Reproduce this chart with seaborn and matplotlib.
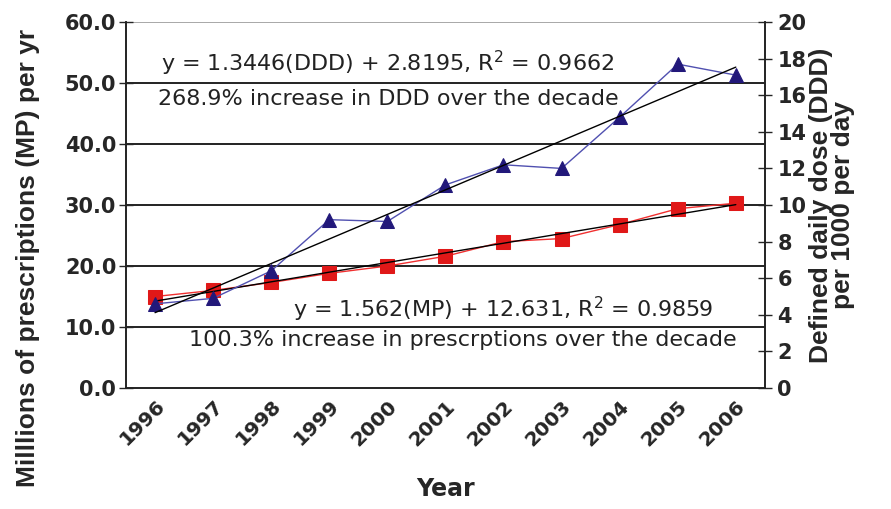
import numpy as np
import pandas as pd
import matplotlib
matplotlib.use("Agg")
import matplotlib.pyplot as plt
import seaborn as sns

# data
years = ["1996", "1997", "1998", "1999", "2000", "2001", "2002", "2003", "2004", "2005", "2006"]
mp = [15.0, 16.0, 17.3, 18.8, 20.0, 21.6, 24.0, 24.5, 26.8, 29.4, 30.3]
ddd = [4.6, 4.9, 6.4, 9.2, 9.1, 11.1, 12.2, 12.0, 14.8, 17.7, 17.1]

df = pd.DataFrame({"pos": np.arange(len(years)), "Year": years, "MP": mp, "DDD": ddd})

sns.set_style("white")
plt.rcParams["font.family"] = ["DejaVu Sans"]

fig = plt.figure(figsize=(8.91, 5.09), dpi=100)
ax = fig.add_axes([0.1414, 0.2377, 0.717, 0.719])
ax2 = ax.twinx()

# grid lines on left scale
for v in [10, 20, 30, 40, 50]:
    ax.axhline(v, color="#222222", lw=1.4, zorder=0)
ax.axhline(60, color="#999999", lw=1.2, zorder=0)

# MP series (left axis)
sns.lineplot(data=df, x="pos", y="MP", ax=ax, color="#f03030", lw=1.0,
             marker="s", markersize=10, markeredgecolor="#e01818",
             markerfacecolor="#e01818", zorder=3)
sns.regplot(data=df, x="pos", y="MP", ax=ax, scatter=False, ci=None,
            truncate=True, line_kws={"color": "black", "lw": 1.0, "zorder": 4})

# DDD series (right axis)
sns.lineplot(data=df, x="pos", y="DDD", ax=ax2, color="#5050b0", lw=1.0,
             marker="^", markersize=10, markeredgecolor="#22187a",
             markerfacecolor="#22187a", zorder=3)
sns.regplot(data=df, x="pos", y="DDD", ax=ax2, scatter=False, ci=None,
            truncate=True, line_kws={"color": "black", "lw": 1.0, "zorder": 4})

ax.set_xlim(-0.5, len(years) - 0.5)
ax.set_ylim(0, 60)
ax2.set_ylim(0, 20)

ax.set_yticks(np.arange(0, 61, 10))
ax.set_yticklabels([f"{v:.1f}" for v in np.arange(0, 61, 10)],
                   fontsize=15, fontweight="bold")
ax2.set_yticks(np.arange(0, 21, 2))
ax2.set_yticklabels([str(v) for v in range(0, 21, 2)],
                    fontsize=15, fontweight="bold")

ax.set_xticks(np.arange(len(years)))
ax.set_xticklabels(years, rotation=45, ha="right", rotation_mode="anchor",
                   fontsize=14.5, fontweight="bold")
ax.set_xticks(np.arange(-0.5, len(years)), minor=True)
ax.tick_params(axis="x", which="major", length=0, pad=6)
ax.tick_params(axis="x", which="minor", length=9, direction="inout", width=1)
ax.tick_params(axis="y", length=10, direction="inout", width=1, pad=2)
ax2.tick_params(axis="y", length=10, direction="inout", width=1, pad=4)

for a in (ax, ax2):
    a.spines["top"].set_visible(False)
    for s in ["left", "right", "bottom"]:
        a.spines[s].set_color("#222222")
        a.spines[s].set_linewidth(1.2)

ax.set_xlabel("Year", fontsize=17, fontweight="bold", labelpad=20)
ax.set_ylabel("Milllions of prescriptions (MP) per yr", fontsize=19,
              fontweight="bold", family="Liberation Sans")
ax.yaxis.set_label_coords(-0.135, 0.355)
ax2.set_ylabel("Defined daily dose (DDD)\nper 1000 per day", fontsize=19,
               fontweight="bold", labelpad=2, linespacing=0.9,
               family="Liberation Sans")

ax.text(0.41, 0.886, "y = 1.3446(DDD) + 2.8195, R$^2$ = 0.9662",
        transform=ax.transAxes, ha="center", va="center", fontsize=16,
        color="#222222", zorder=5)
ax.text(0.41, 0.791, "268.9% increase in DDD over the decade",
        transform=ax.transAxes, ha="center", va="center", fontsize=16,
        color="#222222", zorder=5)
ax.text(0.59, 0.215, "y = 1.562(MP) + 12.631, R$^2$ = 0.9859",
        transform=ax.transAxes, ha="center", va="center", fontsize=16,
        color="#222222", zorder=5)
ax.text(0.528, 0.130, "100.3% increase in prescrptions over the decade",
        transform=ax.transAxes, ha="center", va="center", fontsize=16,
        color="#222222", zorder=5)

fig.savefig("out.png", dpi=100)
